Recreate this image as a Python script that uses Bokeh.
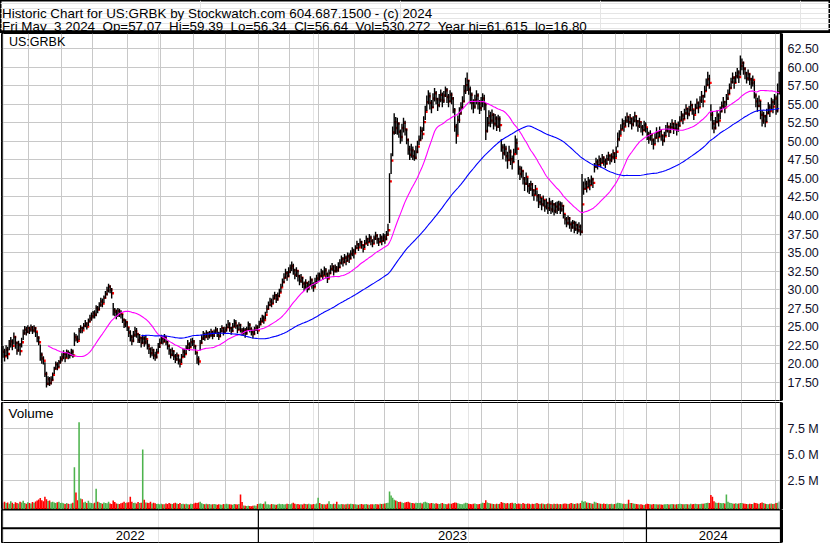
import numpy as np
import pandas as pd
from bokeh.plotting import figure
from bokeh.layouts import column
from bokeh.models import (ColumnDataSource, FixedTicker, Range1d, Grid, Label, Span,
                          PrintfTickFormatter)
from bokeh.transform import dodge
from bokeh.core.properties import value
from bokeh.embed import file_html
from bokeh.resources import INLINE

# ---------------- texts ----------------
NB = "\u00a0"
HEADER_1 = "Historic Chart for US:GRBK by Stockwatch.com 604.687.1500 - (c) 2024"
HEADER_2 = ("Fri May" + NB + " 3 2024" + NB + " Op=57.07" + NB + " Hi=59.39" + NB + " Lo=56.34"
            + NB + " Cl=56.64" + NB + " Vol=530,272" + NB + " Year hi=61.615" + NB + " lo=16.80")
SYMBOL = "US:GRBK"
VOLUME_TITLE = "Volume"
YEARS = [2022, 2023, 2024]
PRICE_TICKS = [17.5, 20.0, 22.5, 25.0, 27.5, 30.0, 32.5, 35.0, 37.5, 40.0, 42.5, 45.0,
               47.5, 50.0, 52.5, 55.0, 57.5, 60.0, 62.5]
VOL_TICKS = [2.5, 5.0, 7.5]  # millions

# ---------------- trading calendar ----------------
START, END = "2022-05-06", "2024-05-03"
HOLIDAYS = ["2022-05-30", "2022-06-20", "2022-07-04", "2022-09-05", "2022-11-24", "2022-12-26",
            "2023-01-02", "2023-01-16", "2023-02-20", "2023-04-07", "2023-05-29", "2023-06-19",
            "2023-07-04", "2023-09-04", "2023-11-23", "2023-12-25",
            "2024-01-01", "2024-01-15", "2024-02-19", "2024-03-29"]

# ---------------- daily data (one line per month) ----------------
CLOSE = [
    21.6, 21.0, 21.9, 21.3, 22.6, 23.0, 22.4, 23.6, 22.8, 21.8, 22.5, 21.7, 22.9, 24.1, 24.6, 24.3, 24.8,
    24.6, 24.9, 24.5, 24.8, 24.3, 23.5, 22.9, 21.2, 20.7, 20.4, 18.6, 17.3, 17.9, 17.4, 17.8, 18.5, 19.3, 19.9, 19.5, 20.2, 20.6,
    20.9, 21.3, 20.8, 21.5, 21.2, 21.2, 21.6, 21.1, 23.6, 23.3, 23.1, 24.4, 24.8, 24.5, 25.1, 25.4, 25.0, 25.7, 26.1, 26.4,
    26.8, 26.6, 27.5, 27.3, 27.9, 28.4, 28.1, 28.9, 29.4, 29.9, 30.4, 30.0, 29.5, 27.2, 27.0, 26.6, 27.1, 26.8, 26.7, 25.9, 25.3, 25.6, 24.9,
    24.2, 23.6, 23.1, 23.9, 24.4, 24.0, 23.2, 23.5, 22.8, 23.4, 22.9, 23.3, 22.4, 22.0, 21.4, 21.8, 21.1, 20.9, 21.5, 22.3, 22.8,
    23.4, 23.0, 23.6, 22.9, 22.4, 21.8, 21.2, 21.7, 21.0, 20.6, 21.1, 20.4, 20.0, 20.9, 21.6, 21.3, 22.1, 22.6, 22.2, 22.9, 23.0,
    22.4, 21.5, 20.6, 20.3, 22.8, 23.4, 23.9, 23.6, 24.1, 23.7, 23.9, 24.3, 23.8, 24.2, 24.5, 24.1, 23.7, 24.4, 24.8, 24.3, 24.6,
    24.9, 25.3, 24.8, 24.4, 25.0, 25.5, 25.1, 24.6, 25.2, 24.5, 24.2, 24.5, 24.1, 24.6, 25.2, 24.7, 24.3, 24.0, 24.6, 24.9, 24.5,
    25.3, 25.7, 26.2, 25.9, 26.6, 27.4, 27.9, 28.4, 28.1, 28.8, 29.2, 28.7, 29.1, 29.6, 30.3, 31.0, 31.6, 32.2, 31.8, 32.4,
    32.9, 33.2, 32.6, 32.0, 32.5, 31.8, 31.2, 31.6, 30.8, 30.4, 30.9, 30.2, 30.6, 31.3, 30.7, 30.3, 31.0, 31.5, 31.9,
    31.8, 32.3, 31.9, 32.6, 32.1, 31.5, 32.2, 32.8, 33.1, 32.5, 32.9, 32.6, 33.0, 33.6, 34.1, 33.7, 34.3, 33.9, 34.5, 34.2, 34.8, 35.2, 34.9,
    35.6, 36.1, 35.7, 36.4, 36.0, 35.5, 36.2, 36.8, 36.4, 37.0, 36.6, 36.2, 36.9, 37.3, 36.8, 36.4, 37.0, 36.6, 37.1,
    36.8, 37.4, 38.0, 44.6, 47.4, 51.2, 52.6, 51.8, 52.4, 51.3, 50.6, 51.8, 52.5, 51.6, 50.2, 48.9, 48.2, 48.8, 48.0, 47.8, 48.6, 49.3,
    50.2, 51.4, 51.0, 52.6, 54.0, 55.3, 56.1, 55.2, 54.6, 55.8, 56.5, 55.7, 54.9, 55.6, 56.3, 55.5, 56.2, 56.9, 56.0, 55.4, 56.3,
    55.8, 54.2, 52.0, 50.8, 52.9, 53.8, 54.6, 55.4, 56.8, 57.6, 58.2, 57.0, 56.3, 55.2, 54.7, 55.6, 56.2, 55.1, 54.5, 55.3,
    55.8, 55.0, 51.4, 52.5, 53.4, 52.8, 53.6, 52.4, 53.1, 52.0, 53.0, 52.2, 49.2, 48.4, 49.0, 48.0, 47.5, 48.6, 47.6, 47.2, 48.3, 49.8, 49.0,
    46.3, 45.6, 46.0, 45.0, 44.3, 45.2, 44.0, 43.6, 44.2, 43.4, 42.8, 43.6, 42.6, 41.8, 42.4, 41.5, 42.1, 41.2, 41.7, 41.0,
    41.6, 40.8, 41.5, 40.6, 41.2, 40.9, 41.5, 40.8, 41.3, 40.2, 39.5, 39.0, 39.6, 38.8, 38.4, 39.0, 38.2, 38.7, 38.0, 38.5, 37.8, 41.5,
    43.6, 44.3, 43.8, 44.6, 44.1, 44.9, 44.4, 46.6, 47.2, 46.8, 47.5, 47.1, 47.8, 47.3, 47.0, 47.6, 48.1, 47.5, 47.9, 48.4, 47.8,
    48.6, 50.3, 50.8, 51.6, 52.4, 52.0, 52.8, 53.3, 52.6, 53.1, 52.3, 52.8, 53.4, 52.7, 52.1, 52.6, 51.9, 51.5, 52.2, 51.9,
    51.0, 50.4, 50.9, 50.2, 49.6, 50.5, 51.2, 50.6, 51.4, 50.8, 50.1, 50.7, 51.5, 52.0, 51.3, 51.9, 52.4, 51.7, 52.3, 51.6, 52.1,
    52.8, 53.5, 53.0, 53.8, 54.4, 53.7, 54.2, 54.9, 54.3, 53.6, 54.5, 55.2, 54.6, 55.5, 56.1, 55.4, 56.8, 57.6, 58.4, 57.9,
    53.6, 52.4, 51.8, 52.6, 53.5, 52.8, 54.1, 54.8, 55.3, 54.6, 55.8, 56.4, 57.2, 58.0, 58.6, 57.9, 58.8, 59.3, 58.7, 60.2,
    60.6, 59.8, 59.2, 58.5, 59.1, 58.4, 57.9, 58.3, 56.2, 55.4, 54.8, 55.5, 53.6, 52.8, 53.4, 52.6, 53.8, 54.6, 54.1, 55.3, 54.7, 55.8,
    54.2, 56.64, 56.64,
]
HIGH = [
    22.4, 22.0, 22.5, 22.3, 23.2, 23.6, 23.3, 24.2, 23.7, 23.0, 23.1, 22.8, 23.5, 24.6, 25.1, 25.0, 25.2,
    25.0, 25.3, 25.1, 25.2, 24.9, 24.2, 23.7, 22.6, 21.5, 21.0, 20.2, 18.9, 18.3, 18.2, 18.3, 18.8, 19.6, 20.3, 20.2, 20.5, 21.0,
    21.4, 21.8, 21.5, 21.9, 21.8, 21.6, 22.0, 21.9, 24.2, 24.0, 23.8, 24.8, 25.2, 25.0, 25.5, 25.9, 25.6, 26.1, 26.6, 26.9,
    27.1, 27.2, 27.9, 27.8, 28.3, 28.9, 28.8, 29.2, 29.8, 30.4, 30.8, 30.6, 30.2, 28.2, 27.5, 27.3, 27.5, 27.4, 27.2, 26.7, 26.1, 26.0, 25.7,
    24.9, 24.5, 23.9, 24.4, 25.0, 24.8, 24.1, 24.0, 23.6, 23.9, 23.7, 23.8, 23.2, 22.7, 22.2, 22.3, 22.0, 21.6, 22.0, 22.8, 23.4,
    23.9, 23.7, 24.0, 23.7, 23.1, 22.6, 22.0, 22.2, 21.8, 21.3, 21.5, 21.2, 20.7, 21.3, 22.0, 22.0, 22.5, 23.2, 22.9, 23.4, 23.5,
    23.2, 22.5, 21.6, 21.0, 23.2, 23.9, 24.4, 24.2, 24.5, 24.3, 24.4, 24.7, 24.4, 24.6, 25.0, 24.8, 24.3, 24.8, 25.2, 24.9, 25.0,
    25.4, 25.9, 25.6, 25.0, 25.5, 26.0, 25.9, 25.3, 25.6, 25.4, 24.8, 24.9, 24.8, 25.0, 25.7, 25.5, 24.9, 24.6, 25.0, 25.3, 25.2,
    25.8, 26.2, 26.6, 26.5, 27.0, 27.9, 28.4, 28.9, 28.8, 29.3, 29.7, 29.4, 29.6, 30.1, 30.8, 31.5, 32.2, 32.8, 32.5, 33.0,
    33.4, 33.8, 33.5, 32.8, 33.0, 32.6, 32.0, 32.1, 31.7, 31.1, 31.4, 31.0, 31.2, 31.8, 31.5, 31.0, 31.6, 32.0, 32.3,
    32.3, 32.8, 32.6, 33.1, 32.9, 32.3, 32.7, 33.3, 33.6, 33.3, 33.4, 33.2, 33.7, 34.1, 34.6, 34.4, 34.8, 34.6, 35.0, 34.9, 35.3, 35.7, 35.5,
    36.0, 36.6, 36.3, 36.9, 36.6, 36.1, 36.7, 37.3, 37.0, 37.5, 37.3, 36.8, 37.3, 37.8, 37.5, 37.0, 37.5, 37.3, 37.6,
    37.5, 37.9, 38.9, 45.7, 48.4, 52.0, 53.8, 53.3, 53.2, 52.6, 51.6, 52.4, 53.2, 52.8, 51.7, 50.4, 49.4, 49.7, 49.3, 48.8, 49.4, 50.1,
    50.8, 52.0, 51.9, 53.4, 54.8, 56.2, 56.9, 56.6, 55.6, 56.5, 57.2, 56.8, 55.9, 56.4, 57.0, 56.6, 56.8, 57.4, 57.2, 56.4, 56.9,
    56.6, 56.0, 54.5, 52.4, 53.5, 54.6, 55.3, 56.1, 57.6, 58.6, 59.3, 58.3, 57.4, 56.6, 55.7, 56.3, 56.9, 56.5, 55.6, 56.0,
    56.5, 56.3, 55.2, 53.3, 54.2, 54.0, 54.3, 53.8, 53.7, 53.4, 53.6, 53.4, 50.3, 49.6, 49.7, 49.4, 48.6, 49.4, 48.9, 48.1, 49.0, 50.8, 50.4,
    47.5, 46.7, 46.6, 46.1, 45.2, 45.8, 45.1, 44.4, 44.7, 44.4, 43.5, 44.1, 43.4, 42.9, 42.9, 42.4, 42.7, 42.1, 42.3, 41.8,
    42.4, 42.0, 42.1, 41.7, 41.8, 41.9, 42.0, 41.9, 41.8, 41.4, 40.2, 39.8, 40.0, 39.8, 39.2, 39.4, 39.3, 39.2, 38.9, 39.1, 38.8, 45.6,
    44.6, 45.0, 44.7, 45.2, 44.9, 45.4, 45.1, 47.1, 47.8, 47.6, 48.1, 47.8, 48.3, 48.0, 47.7, 48.2, 48.6, 48.2, 48.4, 48.9, 48.5,
    49.3, 51.2, 51.5, 52.3, 53.1, 52.9, 53.4, 53.9, 53.4, 53.7, 53.2, 53.4, 54.0, 53.5, 52.9, 53.2, 52.7, 52.2, 52.8, 52.6,
    51.8, 51.3, 51.5, 51.0, 50.4, 51.1, 51.9, 51.4, 52.0, 51.6, 50.9, 51.3, 52.2, 52.6, 52.1, 52.5, 53.0, 52.5, 52.9, 52.4, 52.7,
    53.4, 54.1, 53.8, 54.4, 55.0, 54.5, 54.8, 55.5, 55.1, 54.3, 55.1, 55.8, 55.4, 56.1, 56.8, 56.3, 57.5, 58.5, 59.4, 59.0,
    55.0, 54.0, 52.9, 53.3, 54.2, 53.8, 54.7, 55.4, 56.0, 55.5, 56.4, 57.0, 57.8, 58.6, 59.3, 58.8, 59.4, 59.9, 59.6, 61.6,
    61.2, 60.8, 60.0, 59.4, 59.7, 59.2, 58.6, 58.9, 58.2, 56.5, 55.9, 56.2, 55.5, 54.2, 54.0, 53.6, 54.4, 55.3, 55.0, 55.9, 55.7, 56.4,
    56.2, 57.8, 59.39,
]
LOW = [
    20.8, 20.3, 21.0, 20.6, 21.8, 22.2, 21.8, 22.6, 22.0, 21.2, 21.6, 21.1, 22.2, 23.2, 23.9, 23.8, 24.1,
    24.0, 24.3, 24.0, 24.2, 23.6, 22.9, 22.5, 20.4, 20.0, 19.9, 18.2, 16.8, 17.1, 17.0, 17.2, 17.7, 18.6, 19.2, 19.1, 19.5, 20.0,
    20.3, 20.6, 20.2, 20.8, 20.6, 20.7, 21.0, 20.8, 22.4, 23.0, 22.8, 23.2, 24.1, 24.1, 24.6, 24.9, 24.6, 25.1, 25.6, 25.8,
    26.1, 26.1, 26.4, 26.8, 27.2, 27.7, 27.6, 28.2, 28.8, 29.2, 29.6, 29.5, 28.8, 26.5, 26.4, 26.0, 26.3, 26.3, 26.1, 25.5, 24.8, 24.9, 24.4,
    23.6, 23.0, 22.5, 22.9, 23.6, 23.5, 22.8, 22.8, 22.2, 22.7, 22.3, 22.6, 21.9, 21.3, 20.8, 21.0, 20.6, 20.4, 20.7, 21.5, 22.1,
    22.7, 22.6, 22.9, 22.5, 21.9, 21.2, 20.7, 21.0, 20.5, 20.1, 20.4, 19.9, 19.5, 20.1, 20.9, 20.8, 21.3, 21.9, 21.7, 22.2, 22.4,
    22.0, 21.2, 20.0, 19.8, 21.8, 22.7, 23.2, 23.1, 23.5, 23.2, 23.4, 23.6, 23.3, 23.6, 24.0, 23.6, 23.2, 23.6, 24.2, 23.8, 24.0,
    24.3, 24.8, 24.3, 23.9, 24.3, 24.9, 24.7, 24.1, 24.5, 24.2, 23.8, 23.9, 23.5, 23.9, 24.5, 24.2, 23.8, 23.4, 23.9, 24.4, 24.0,
    24.8, 25.2, 25.6, 25.4, 26.0, 26.8, 27.3, 27.8, 27.6, 28.1, 28.7, 28.2, 28.5, 29.0, 29.6, 30.4, 30.9, 31.5, 31.2, 31.7,
    32.2, 32.5, 32.0, 31.4, 31.7, 31.1, 30.6, 30.9, 30.2, 29.8, 30.1, 29.6, 29.9, 30.5, 30.1, 29.7, 30.3, 30.8, 31.0,
    31.2, 31.7, 31.3, 31.9, 31.5, 30.9, 31.5, 32.1, 32.5, 31.9, 32.3, 32.3, 32.4, 32.9, 33.4, 33.1, 33.6, 33.3, 33.8, 33.6, 34.1, 34.5, 34.2,
    34.9, 35.5, 35.2, 35.8, 35.5, 35.0, 35.6, 36.2, 35.9, 36.4, 36.0, 35.7, 36.2, 36.7, 36.2, 35.9, 36.4, 36.0, 36.5,
    36.2, 36.7, 37.3, 39.0, 45.6, 48.0, 50.9, 51.0, 50.9, 50.5, 49.7, 50.0, 51.2, 50.8, 49.6, 48.2, 47.5, 47.8, 47.5, 47.4, 47.6, 48.4,
    49.5, 50.1, 50.3, 51.4, 52.9, 54.1, 55.0, 54.3, 53.8, 54.5, 55.4, 55.0, 54.1, 54.6, 55.3, 54.6, 55.2, 56.0, 55.2, 54.6, 55.3,
    55.0, 53.8, 51.3, 49.7, 50.9, 52.5, 53.6, 54.4, 55.3, 56.4, 56.8, 56.3, 55.1, 54.3, 53.8, 54.4, 55.0, 54.3, 53.7, 54.1,
    54.6, 54.2, 50.2, 51.2, 52.0, 51.9, 52.4, 51.6, 52.0, 51.4, 51.8, 51.3, 48.6, 47.6, 48.1, 47.3, 46.3, 47.4, 46.8, 46.2, 47.2, 48.4, 48.2,
    45.5, 44.8, 45.1, 44.2, 43.3, 44.1, 43.1, 42.9, 43.3, 42.6, 42.0, 42.8, 41.9, 41.0, 41.4, 40.7, 41.2, 40.5, 40.8, 40.2,
    40.6, 40.2, 40.4, 40.0, 40.3, 40.2, 40.6, 40.2, 40.5, 39.6, 38.8, 38.4, 38.7, 38.2, 37.8, 38.2, 37.6, 37.9, 37.5, 37.7, 37.3, 37.6,
    42.8, 43.5, 43.1, 43.8, 43.4, 44.1, 43.7, 45.8, 46.4, 46.2, 46.8, 46.5, 47.1, 46.7, 46.4, 46.9, 47.4, 46.9, 47.2, 47.6, 47.1,
    47.9, 49.2, 50.1, 50.9, 51.6, 51.3, 52.0, 52.5, 51.9, 52.3, 51.6, 52.0, 52.6, 52.0, 51.3, 51.8, 51.2, 50.8, 51.4, 51.2,
    50.2, 49.7, 50.1, 49.5, 48.9, 49.6, 50.4, 49.9, 50.6, 50.1, 49.4, 49.9, 50.7, 51.2, 50.6, 51.1, 51.6, 51.0, 51.5, 50.8, 51.3,
    52.0, 52.8, 52.3, 53.0, 53.6, 53.0, 53.4, 54.1, 53.6, 52.9, 53.7, 54.4, 53.8, 54.6, 55.2, 54.6, 55.9, 56.8, 57.5, 57.1,
    52.8, 51.6, 51.1, 51.6, 52.5, 52.0, 53.0, 53.9, 54.4, 53.8, 54.8, 55.6, 56.4, 57.1, 57.8, 57.1, 57.9, 58.5, 57.9, 58.9,
    59.6, 59.0, 58.4, 57.8, 58.2, 57.6, 57.1, 57.4, 55.8, 54.6, 54.0, 54.6, 53.0, 52.0, 52.4, 51.9, 52.6, 53.7, 53.3, 54.2, 53.8, 54.9,
    53.6, 53.9, 56.34,
]
VOLUME_K = [
    420, 510, 380, 450, 330, 560, 410, 300, 470, 390, 350, 520, 440, 610, 380, 330, 460,
    400, 350, 480, 420, 530, 640, 720, 880, 650, 560, 1000, 760, 590, 640, 470, 520, 440, 390, 460, 510, 380,
    420, 360, 300, 380, 330, 290, 350, 410, 3800, 1400, 650, 8100, 830, 750, 450, 520, 380, 600, 420, 380,
    350, 410, 1760, 520, 440, 380, 330, 450, 400, 360, 520, 340, 300, 620, 480, 350, 330, 290, 360, 420, 510, 380, 440,
    460, 1000, 520, 380, 410, 350, 480, 390, 420, 5500, 700, 450, 420, 380, 520, 340, 410, 370, 300, 330, 280,
    320, 280, 260, 350, 300, 380, 330, 290, 360, 410, 340, 300, 380, 290, 320, 260, 310, 280, 250, 330, 290,
    350, 420, 380, 450, 520, 360, 300, 280, 310, 260, 290, 240, 270, 300, 260, 230, 280, 250, 220, 300, 270,
    310, 260, 280, 240, 230, 300, 270, 250, 290, 1200, 480, 150, 120, 100, 140, 110, 90, 130, 160, 120, 300,
    330, 350, 290, 320, 540, 280, 260, 230, 300, 270, 250, 220, 280, 310, 260, 290, 240, 270, 330, 300,
    280, 350, 420, 310, 260, 300, 250, 280, 240, 330, 290, 260, 310, 280, 250, 300, 270, 340, 900,
    380, 300, 260, 280, 240, 310, 550, 290, 260, 330, 300, 520, 280, 250, 300, 270, 240, 260, 310, 280, 330, 290, 260,
    280, 250, 230, 270, 300, 240, 260, 290, 250, 230, 280, 260, 240, 300, 270, 250, 330, 290, 310,
    350, 380, 420, 1500, 1100, 900, 700, 620, 550, 480, 520, 450, 400, 430, 480, 520, 450, 400, 380, 350, 420, 390,
    380, 420, 350, 460, 500, 430, 380, 350, 400, 370, 330, 360, 310, 290, 340, 380, 320, 300, 280, 350, 310,
    330, 380, 450, 420, 360, 320, 300, 280, 350, 420, 380, 330, 300, 280, 310, 340, 290, 270, 300, 350,
    420, 380, 650, 450, 380, 350, 320, 300, 280, 310, 290, 330, 480, 420, 380, 350, 400, 320, 380, 420, 350, 380, 300,
    350, 320, 300, 380, 330, 290, 350, 310, 280, 330, 300, 350, 380, 320, 290, 340, 310, 280, 300, 350,
    320, 300, 280, 330, 290, 310, 270, 300, 280, 330, 350, 320, 290, 310, 380, 340, 300, 330, 360, 320, 400, 600,
    500, 550, 450, 420, 380, 350, 330, 520, 450, 380, 350, 320, 300, 340, 290, 310, 280, 300, 330, 280, 300,
    350, 420, 380, 360, 330, 310, 290, 320, 700, 400, 380, 350, 330, 300, 280, 250, 270, 230, 210, 260,
    320, 290, 270, 250, 300, 280, 260, 240, 270, 250, 230, 260, 280, 300, 250, 270, 290, 260, 240, 280, 300,
    330, 300, 280, 260, 290, 270, 250, 310, 280, 300, 320, 290, 270, 300, 330, 310, 350, 380, 420, 400,
    1150, 1000, 550, 450, 400, 420, 380, 360, 400, 350, 1200, 500, 420, 380, 350, 330, 360, 320, 340, 380,
    400, 350, 330, 300, 280, 320, 300, 290, 420, 380, 350, 300, 400, 450, 380, 330, 300, 280, 320, 350, 300, 330,
    380, 420, 530,
]

# ---------------- derived ----------------
dates = pd.bdate_range(START, END, freq="C", holidays=HOLIDAYS)
n = min(len(dates), len(CLOSE), len(HIGH), len(LOW), len(VOLUME_K))
dates = dates[:n]
close = np.array(CLOSE[:n], dtype=float)
high = np.array(HIGH[:n], dtype=float)
low = np.array(LOW[:n], dtype=float)
vol = np.array(VOLUME_K[:n], dtype=float) / 1000.0
x = np.arange(n)

GREEN, RED, GRAY = "#4db34d", "#ff0000", "#a0a0a0"
prev = np.r_[np.nan, close[:-1]]
vcolor = np.where(close > prev, GREEN, np.where(close < prev, RED, GRAY))
ma30 = pd.Series(close).rolling(30).mean().to_numpy()
ma90 = pd.Series(close).rolling(90).mean().to_numpy()

src = ColumnDataSource(dict(x=x, high=high, low=low, close=close, vol=vol, vcolor=vcolor,
                            ma30=ma30, ma90=ma90))

month_ticks = [i - 0.5 for i in range(1, n) if dates[i].month != dates[i - 1].month]
year_bounds = [i - 0.5 for i in range(1, n) if dates[i].year != dates[i - 1].year]

FONT = "Liberation Sans"
W = 830
GRID = "#c8c8c8"
x_range = Range1d(-0.97, 501.5)
vol_range = Range1d(-0.23, 10.0)

year_centers = []
for yv in YEARS:
    idx = np.where(dates.year == yv)[0]
    lo_ = max(idx[0] - 0.5, x_range.start)
    hi_ = min(idx[-1] + 0.5, x_range.end)
    year_centers.append((lo_ + hi_) / 2)


def base(fig):
    fig.background_fill_color = "white"
    fig.border_fill_color = "white"
    fig.outline_line_color = "black"
    fig.outline_line_width = 1
    fig.outline_line_alpha = 1.0


def left_edge(fig):
    fig.add_layout(Span(location=x_range.start, dimension="height", line_color="black",
                        line_width=2.5))


def style_right_axis(ax, fmt, ticks):
    ax.ticker = FixedTicker(ticks=ticks)
    ax.formatter = PrintfTickFormatter(format=fmt)
    ax.axis_line_color = "black"
    ax.axis_line_width = 3
    ax.major_tick_out = 0
    ax.major_tick_in = 0
    ax.minor_tick_out = 0
    ax.minor_tick_in = 0
    ax.major_label_standoff = 6
    ax.major_label_text_font = FONT
    ax.major_label_text_font_size = "12.5px"
    ax.major_label_text_color = "#10102a"


# ---------------- header ----------------
hdr = figure(width=W, height=33, x_range=(0, W), y_range=(0, 33), toolbar_location=None,
             output_backend="svg", min_border=0, x_axis_location=None, y_axis_location=None)
base(hdr)
try:
    hdr.frame_align = False
except Exception:
    pass
hdr.outline_line_width = 2
hdr.add_layout(Span(location=1.6, dimension="width", line_color="black", line_width=3.2))
hdr.add_layout(Label(x=1.5, y=19.6, text=HEADER_1, text_font=FONT, text_font_size="13.4px",
                     text_baseline="alphabetic", text_color="black"))
hdr.add_layout(Label(x=1.5, y=6.6, text=HEADER_2, text_font=FONT, text_font_size="13.4px",
                     text_baseline="alphabetic", text_color="black"))

# ---------------- price panel ----------------
pp = figure(width=W, height=368, x_range=x_range, y_range=Range1d(15.03, 64.565),
            toolbar_location=None, output_backend="svg", x_axis_location=None,
            y_axis_location="right", min_border_left=1, min_border_right=49,
            min_border_top=0, min_border_bottom=1)
base(pp)
style_right_axis(pp.yaxis[0], "%.2f", PRICE_TICKS)
pp.ygrid.grid_line_color = GRID
pp.add_layout(Grid(dimension=0, ticker=FixedTicker(ticks=month_ticks), grid_line_color=GRID))
left_edge(pp)

pp.rect(x=dodge("x", 0.75, range=pp.x_range), y="close", width=2.4, height=2.4,
        width_units="screen", height_units="screen", fill_color=RED, line_color=None, source=src)
pp.segment(x0="x", y0="low", x1="x", y1="high", line_color="black", line_width=1.4, source=src)
pp.line("x", "ma30", line_color="#ff00ff", line_width=1.1, source=src)
pp.line("x", "ma90", line_color="#0000ff", line_width=1.1, source=src)
pp.add_layout(Label(x=7.5, y=365.8, x_units="screen", y_units="screen", text=SYMBOL,
                    text_font=FONT, text_font_size="12.5px", text_baseline="top",
                    text_color="black"))

# ---------------- volume panel ----------------
vp = figure(width=W, height=108, x_range=x_range, y_range=vol_range,
            toolbar_location=None, output_backend="svg", x_axis_location=None,
            y_axis_location="right", min_border_left=1, min_border_right=49,
            min_border_top=1, min_border_bottom=0)
base(vp)
style_right_axis(vp.yaxis[0], "%.1f M", VOL_TICKS)
vp.ygrid.grid_line_color = GRID
vp.add_layout(Grid(dimension=0, ticker=FixedTicker(ticks=month_ticks), grid_line_color=GRID))
left_edge(vp)
vp.vbar(x="x", top="vol", bottom=vol_range.start, width=1.0, fill_color="vcolor",
        line_color=None, source=src)
vp.add_layout(Label(x=7, y=103.5, x_units="screen", y_units="screen", text=VOLUME_TITLE,
                    text_font=FONT, text_font_size="13.5px", text_baseline="top",
                    text_color="black"))

# ---------------- year strip ----------------
dp = figure(width=W, height=34, x_range=x_range, y_range=Range1d(0, 33),
            toolbar_location=None, output_backend="svg", x_axis_location=None,
            y_axis_location="right", min_border_left=1, min_border_right=49,
            min_border_top=0, min_border_bottom=1)
base(dp)
style_right_axis(dp.yaxis[0], "%.0f", [])
dp.ygrid.grid_line_color = None
left_edge(dp)
dp.add_layout(Span(location=33, dimension="width", line_color="black", line_width=2))
dp.segment(x0=year_bounds, y0=0, x1=year_bounds, y1=33, line_color="black", line_width=1.2)
dp.add_layout(Span(location=14.2, dimension="width", line_color="black", line_width=2))
dp.text(x=year_centers, y=7.2, text=[str(yv) for yv in YEARS], text_align="center",
        text_baseline="middle", text_font=value(FONT), text_font_size="13px", text_color="black")

layout = column(hdr, pp, vp, dp, spacing=0)
open("out.html", "w").write(file_html(layout, INLINE))
